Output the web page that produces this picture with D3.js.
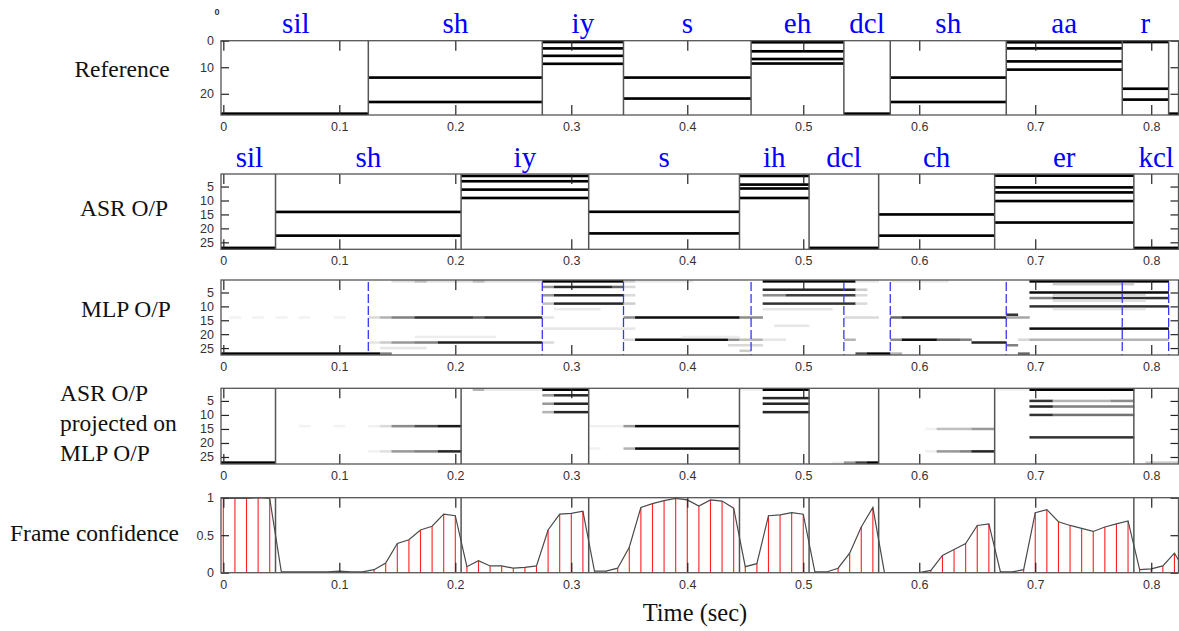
<!DOCTYPE html>
<html><head><meta charset="utf-8">
<script src="https://cdn.jsdelivr.net/npm/d3@7"></script>
<style>
html,body{margin:0;padding:0;background:#fff;}
svg{display:block;}
</style></head>
<body><svg id="c" width="1179" height="631"></svg>
<script>
// ---------------- DATA ----------------
const frameStep = 0.01;                     // seconds per frame
const xTickValues = [0,0.1,0.2,0.3,0.4,0.5,0.6,0.7,0.8];
const xTickLabels = ["0","0.1","0.2","0.3","0.4","0.5","0.6","0.7","0.8"];
const refYTicks = [0,10,20];
const rowYTicks = [5,10,15,20,25];
const confYTicks = [0,0.5,1];
const confYTickLabels = ["0","0.5","1"];

// Reference phone segmentation
const refLabels = ["sil","sh","iy","s","eh","dcl","sh","aa","r",""];
const refBounds = [0,0.125,0.275,0.345,0.455,0.535,0.575,0.675,0.775,0.815,0.8235];
const refRows = [[27.5],[13.9,23.1],[0.5,2.9,5.7,8.7],[13.9,21.8],[0.6,4,6.9,8.6],
                 [27.5],[13.9,23.1],[0.6,2.9,7.8,10.9],[0.5,18.1,22.2],[27.5]];

// ASR output segmentation
const asrLabels = ["sil","sh","iy","s","ih","dcl","ch","er","kcl"];
const asrBounds = [0,0.045,0.205,0.315,0.445,0.505,0.565,0.665,0.785,0.8235];
const asrRows = [[27],[14.1,22.6],[1.2,3.1,6.1,9.1],[14.05,21.8],[1.2,4.3,5.7,9.1],
                 [27],[15,22.6],[1.1,5.3,7.1,10.2,17.9],[27]];

// MLP output: [row, firstFrame, lastFrame, level 0..1]
const mlpCells = [
 [27,0,13,1.0],[27,14,14,0.5],
 [14,1,1,0.05],[14,3,3,0.05],[14,5,5,0.05],[14,7,7,0.05],[14,10,10,0.05],
 [14,13,13,0.15],[14,14,14,0.3],[14,15,16,0.5],[14,17,21,0.82],[14,22,22,0.65],[14,23,27,0.82],
 [23,13,13,0.1],[23,14,14,0.2],[23,15,16,0.4],[23,17,18,0.5],[23,19,27,0.88],
 [25,14,17,0.1],[21,17,23,0.07],
 [1,15,27,0.12],[1,17,17,0.25],[1,22,22,0.25],
 [1,28,34,1.0],[1,35,35,0.2],
 [3,28,28,0.4],[3,29,33,0.85],[3,34,34,0.6],[3,35,35,0.15],
 [6,28,28,0.4],[6,29,34,0.85],[6,35,35,0.15],
 [9,28,28,0.25],[9,29,34,0.85],[9,35,35,0.2],
 [11,29,32,0.08],[18,28,35,0.1],[23,28,28,0.15],[14,28,28,0.1],
 [14,35,35,0.45],[14,36,44,0.95],[14,45,46,0.45],
 [22,35,35,0.15],[22,36,43,0.95],[22,44,44,0.45],[22,45,45,0.25],[22,46,46,0.3],
 [1,36,40,0.08],[21,40,44,0.07],[24,44,46,0.15],[26,45,45,0.2],
 [1,47,54,1.0],[1,55,56,0.1],
 [4,47,54,0.85],[4,55,55,0.2],
 [6,47,48,0.45],[6,49,54,0.75],[6,55,55,0.15],
 [9,47,54,0.8],[9,55,55,0.15],
 [11,47,52,0.1],[17,48,50,0.1],[22,47,48,0.1],
 [14,54,56,0.15],[22,54,54,0.3],[27,55,55,0.7],[27,56,57,1.0],[27,58,58,0.3],
 [1,58,62,0.08],[14,58,58,0.6],[14,59,67,0.85],[14,68,69,0.35],[13,68,68,0.8],
 [22,58,58,0.45],[22,59,61,0.95],[22,62,63,0.6],[22,64,64,0.5],[23,65,67,0.85],
 [24,68,68,0.5],[27,69,69,0.6],[22,69,69,0.15],
 [1,70,81,1.0],[5,70,81,0.95],[7,70,71,0.5],[7,72,81,0.8],[10,70,81,0.8],[18,70,81,0.95],[22,70,81,0.3],
 [2,72,78,0.2],[6,72,79,0.15],[8,72,79,0.12],[11,72,79,0.1]
];

// ASR output projected on MLP output: [row, firstFrame, lastFrame, level]
const projCells = [
 [27,0,4,1.0],
 [14,7,7,0.05],[14,10,10,0.05],[14,13,13,0.06],[14,14,14,0.15],[14,15,16,0.45],[14,17,18,0.7],[14,19,20,0.9],
 [23,13,13,0.05],[23,14,14,0.12],[23,15,16,0.4],[23,17,18,0.5],[23,19,20,0.85],
 [1,22,22,0.3],[1,23,27,0.08],[1,28,31,1.0],
 [3,28,28,0.4],[3,29,31,0.85],[6,28,28,0.4],[6,29,31,0.85],[9,28,28,0.3],[9,29,31,0.85],
 [14,32,34,0.06],[14,35,35,0.4],[14,36,44,0.95],
 [22,32,32,0.05],[22,35,35,0.3],[22,36,44,0.95],
 [1,45,46,0.06],[1,47,50,1.0],[4,47,50,0.85],[6,47,50,0.85],[9,47,50,0.85],
 [27,53,53,0.06],[27,54,54,0.4],[27,55,55,0.75],[27,56,56,1.0],
 [15,61,61,0.05],[15,62,64,0.25],[15,65,66,0.4],
 [23,61,61,0.06],[23,62,63,0.4],[23,64,64,0.5],[23,65,66,0.85],
 [1,67,69,0.05],[1,70,78,1.0],
 [5,70,71,0.8],[5,72,76,0.3],[5,77,78,0.45],
 [7,70,71,0.85],[7,72,78,0.5],
 [10,70,71,0.8],[10,72,78,0.55],
 [18,70,78,0.8],
 [27,80,82,0.2]
];

// Frame confidence, one value per frame (frame k at k*0.01 s)
const confidence = [0.99,0.99,0.99,1.0,0.99, 0.01,0.01,0.01,0.01,0.01,
 0.02,0.01,0.01,0.04,0.13, 0.39,0.44,0.57,0.62,0.78,
 0.76,0.08,0.16,0.09,0.09, 0.06,0.07,0.09,0.57,0.78,
 0.79,0.82,0.02,0.02,0.06, 0.34,0.87,0.92,0.96,0.99,
 0.97,0.89,0.97,0.955,0.86, 0.08,0.12,0.76,0.77,0.80,
 0.78,0.01,0.01,0.06,0.26, 0.61,0.87,0.0,0.0,0.0,
 0.0,0.03,0.23,0.31,0.39, 0.63,0.65,0.01,0.01,0.04,
 0.80,0.84,0.68,0.63,0.59, 0.55,0.61,0.65,0.69,0.04,
 0.05,0.09,0.26,0.0];

const rowLabels = [
 {lines:["Reference"]},
 {lines:["ASR O/P"]},
 {lines:["MLP O/P"]},
 {lines:["ASR O/P","projected on","MLP O/P"]},
 {lines:["Frame confidence"]}
];

// ---------------- LAYOUT ----------------
const svg = d3.select("#c");
const x = d3.scaleLinear().domain([-0.002, 0.8235]).range([221, 1178.5]);
const panels = [
 {top:40.7,bottom:115},
 {top:174,bottom:249.3},
 {top:280,bottom:355},
 {top:388.3,bottom:464},
 {top:497.7,bottom:572.7}
];
const gray = d3.scaleLinear().domain([0,1]).range(["#ffffff","#000000"]).clamp(true);
const serif = '"Liberation Serif","Times New Roman",serif';
const sans = '"Liberation Sans",Arial,sans-serif';

const yScales = panels.map((p,i)=>{
  if(i===0) return d3.scaleLinear().domain([0,28]).range([p.top,p.bottom]);
  if(i===4) return d3.scaleLinear().domain([0,1]).range([p.bottom,p.top]);
  return d3.scaleLinear().domain([0.5,27.5]).range([p.top,p.bottom]);
});

panels.forEach((p,i)=>{
  svg.append("clipPath").attr("id","clip"+i).append("rect")
    .attr("x",x.range()[0]).attr("y",p.top)
    .attr("width",x.range()[1]-x.range()[0]).attr("height",p.bottom-p.top);
});
const layer = i => svg.append("g").attr("clip-path",`url(#clip${i})`);

function segX(b,i){ return i===0 ? x.range()[0] : x(b); }
function segX2(b,i,bounds){ return i===bounds.length-1 ? x.range()[1] : x(b); }

// ---- segment rows (panels 1,2)
function drawSegments(pi, bounds, rows, h){
  const y = yScales[pi], g = layer(pi);
  rows.forEach((rs,si)=>{
    const x0 = segX(bounds[si],si), x1 = segX2(bounds[si+1],si+1,bounds);
    rs.forEach(r=>{
      g.append("rect").attr("x",x0).attr("width",x1-x0)
       .attr("y",y(r-h/2)).attr("height",y(r+h/2)-y(r-h/2)).attr("fill","#000");
    });
  });
  bounds.slice(1,-1).forEach(b=>{
    g.append("line").attr("x1",x(b)).attr("x2",x(b))
     .attr("y1",panels[pi].top).attr("y2",panels[pi].bottom)
     .attr("stroke","#555").attr("stroke-width",1.5);
  });
}
drawSegments(0, refBounds, refRows, 1.0);
drawSegments(1, asrBounds, asrRows, 0.95);

// ---- heat maps (panels 3,4)
function drawCells(pi, cells){
  const y = yScales[pi], g = layer(pi);
  g.selectAll("rect.c").data(cells).join("rect").attr("class","c")
   .attr("x",d=>x(d[1]*frameStep-frameStep/2))
   .attr("width",d=>x(d[2]*frameStep+frameStep/2)-x(d[1]*frameStep-frameStep/2)+0.3)
   .attr("y",d=>y(d[0]-0.45)).attr("height",d=>y(d[0]+0.45)-y(d[0]-0.45))
   .attr("fill",d=>gray(d[3]));
  return g;
}
const g3 = drawCells(2, mlpCells);
refBounds.slice(1,-1).forEach(b=>{
  g3.append("line").attr("x1",x(b)).attr("x2",x(b))
    .attr("y1",panels[2].top+2).attr("y2",panels[2].bottom)
    .attr("stroke","#3535ff").attr("stroke-width",1.3).attr("stroke-dasharray","9,3");
});
const g4 = drawCells(3, projCells);
asrBounds.slice(1,-1).forEach(b=>{
  g4.append("line").attr("x1",x(b)).attr("x2",x(b))
    .attr("y1",panels[3].top).attr("y2",panels[3].bottom)
    .attr("stroke","#555").attr("stroke-width",1.5);
});

// ---- frame confidence (panel 5)
{
  const y = yScales[4], g = layer(4);
  asrBounds.slice(1,-1).forEach(b=>{
    g.append("line").attr("x1",x(b)).attr("x2",x(b))
     .attr("y1",panels[4].top).attr("y2",panels[4].bottom)
     .attr("stroke","#555").attr("stroke-width",1.5);
  });
  g.selectAll("line.stem").data(confidence).join("line").attr("class","stem")
   .attr("x1",(d,k)=>x(k*frameStep)).attr("x2",(d,k)=>x(k*frameStep))
   .attr("y1",y(0)).attr("y2",d=>y(d))
   .attr("stroke","#ff2020").attr("stroke-width",1.1);
  g.append("path").datum(confidence)
   .attr("d",d3.line().x((d,k)=>x(k*frameStep)).y(d=>y(d)))
   .attr("fill","none").attr("stroke","#4a4a4a").attr("stroke-width",1.2);
}

// ---- frames, axes
panels.forEach((p,i)=>{
  const y = yScales[i];
  const g = svg.append("g");
  g.append("g").attr("transform",`translate(0,${p.bottom})`)
   .call(d3.axisBottom(x).tickValues(xTickValues).tickFormat((d,k)=>xTickLabels[k])
        .tickSizeInner(-10).tickSizeOuter(0).tickPadding(7));
  g.append("g").attr("transform",`translate(0,${p.top})`)
   .call(d3.axisTop(x).tickValues(xTickValues).tickFormat("")
        .tickSizeInner(-10).tickSizeOuter(0));
  let yt, yl;
  if(i===0){ yt=refYTicks; yl=refYTicks.map(String); }
  else if(i===4){ yt=confYTicks; yl=confYTickLabels; }
  else { yt=rowYTicks; yl=rowYTicks.map(String); }
  g.append("g").attr("transform",`translate(${x.range()[0]},0)`)
   .call(d3.axisLeft(y).tickValues(yt).tickFormat((d,k)=>yl[k])
        .tickSizeInner(-8).tickSizeOuter(0).tickPadding(7));
  g.append("g").attr("transform",`translate(${x.range()[1]},0)`)
   .call(d3.axisRight(y).tickValues(yt).tickFormat("")
        .tickSizeInner(-8).tickSizeOuter(0));
  g.selectAll(".domain").remove();
  g.selectAll(".tick line").attr("stroke","#222").attr("stroke-width",1.2);
  g.selectAll(".tick text").attr("font-family",sans).attr("font-size",12.5).attr("fill","#333");
  g.append("rect").attr("x",x.range()[0]).attr("y",p.top)
   .attr("width",x.range()[1]-x.range()[0]).attr("height",p.bottom-p.top)
   .attr("fill","none").attr("stroke","#555").attr("stroke-width",1.3);
});

// ---- phone labels
function drawLabels(labels, bounds, baseline){
  labels.forEach((l,i)=>{
    if(!l) return;
    const mid = (bounds[i]+bounds[i+1])/2;
    svg.append("text").attr("x",x(mid)).attr("y",baseline)
      .attr("text-anchor","middle").attr("font-family",serif)
      .attr("font-size",29).attr("fill","#0000ff").text(l);
  });
}
drawLabels(refLabels, refBounds, 33);
drawLabels(asrLabels, asrBounds, 167);

// tiny stray mark at top-left
svg.append("text").attr("x",217).attr("y",15).attr("text-anchor","middle")
  .attr("font-family",sans).attr("font-size",9).attr("font-weight","bold").attr("fill","#333").text("0");

// ---- row labels
const labelPos = [
 {x:122,anchor:"middle",y:[77]},
 {x:124,anchor:"middle",y:[216]},
 {x:126,anchor:"middle",y:[317]},
 {x:60,anchor:"start",y:[401,431,461]},
 {x:10,anchor:"start",y:[541]}
];
rowLabels.forEach((r,i)=>{
  r.lines.forEach((t,k)=>{
    svg.append("text").attr("x",labelPos[i].x).attr("y",labelPos[i].y[k])
      .attr("text-anchor",labelPos[i].anchor).attr("font-family",serif)
      .attr("font-size",23.5).attr("fill","#111").text(t);
  });
});

// ---- x axis title
svg.append("text").attr("x",695).attr("y",621).attr("text-anchor","middle")
  .attr("font-family",serif).attr("font-size",24.5).attr("fill","#111").text("Time (sec)");
</script></body></html>
